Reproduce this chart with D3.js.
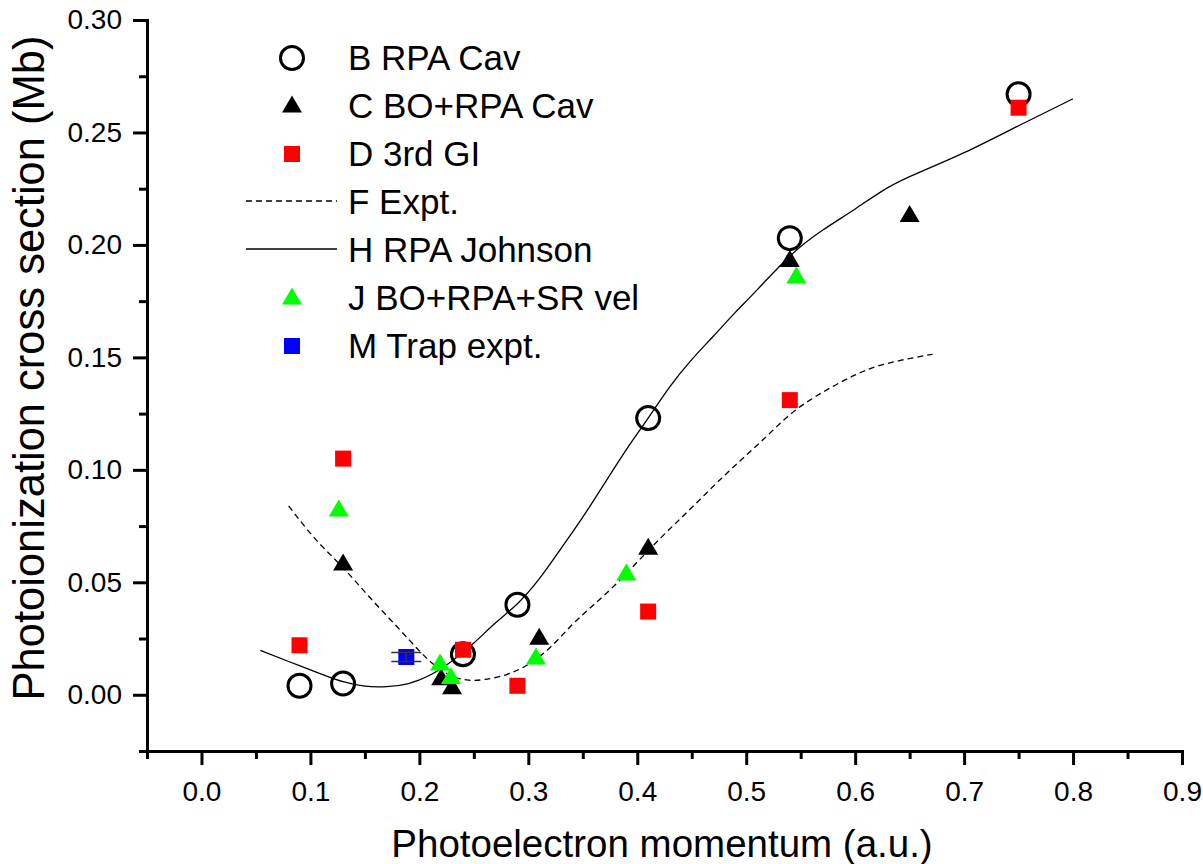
<!DOCTYPE html>
<html>
<head>
<meta charset="utf-8">
<script src="https://cdn.jsdelivr.net/npm/d3@7"></script>
<style>
  body { margin: 0; background: #fff; }
  text { font-family: Arial, "Liberation Sans", sans-serif; fill: #000; }
</style>
</head>
<body>
<div id="chart"></div>
<script>
// B RPA Cav (open circles)
const rpaCavX = [0.09, 0.13, 0.24, 0.29, 0.41, 0.54, 0.75];
const rpaCavY = [0.004, 0.005, 0.018, 0.040, 0.123, 0.203, 0.267];

// C BO+RPA Cav (black triangles)
const boRpaX = [0.13, 0.22, 0.23, 0.31, 0.41, 0.54, 0.65];
const boRpaY = [0.059, 0.008, 0.004, 0.026, 0.066, 0.194, 0.214];

// D 3rd GI (red squares)
const giX = [0.09, 0.13, 0.24, 0.29, 0.41, 0.54, 0.75];
const giY = [0.022, 0.105, 0.020, 0.004, 0.037, 0.131, 0.261];

// F Expt. (dashed line)
const exptX = [0.080, 0.105, 0.130, 0.155, 0.180, 0.200, 0.215, 0.230, 0.245, 0.260, 0.280, 0.300, 0.320,
  0.340, 0.360, 0.380, 0.400, 0.420, 0.440, 0.460, 0.480, 0.500, 0.520, 0.540, 0.560, 0.580, 0.600,
  0.620, 0.645, 0.671];
const exptY = [0.084, 0.069, 0.0565, 0.043, 0.030, 0.0195, 0.0128, 0.0083, 0.0065, 0.0068, 0.009, 0.0135, 0.021,
  0.031, 0.040, 0.049, 0.059, 0.069, 0.0785, 0.088, 0.0975, 0.1065, 0.1155, 0.1245, 0.1315, 0.1372, 0.1422,
  0.1460, 0.1490, 0.1514];

// H RPA Johnson (solid line)
const johnsonX = [0.054, 0.080, 0.110, 0.130, 0.150, 0.170, 0.190, 0.210, 0.230, 0.250, 0.270, 0.290, 0.310,
  0.330, 0.350, 0.370, 0.390, 0.410, 0.430, 0.450, 0.470, 0.490, 0.510, 0.540, 0.570, 0.600, 0.630,
  0.660, 0.700, 0.750, 0.800];
const johnsonY = [0.0197, 0.0148, 0.0092, 0.0058, 0.0038, 0.0036, 0.005, 0.0088, 0.015, 0.023, 0.032, 0.0405, 0.0515,
  0.065, 0.079, 0.094, 0.109, 0.123, 0.137, 0.149, 0.1595, 0.170, 0.180, 0.195, 0.2065, 0.216, 0.2255,
  0.2325, 0.241, 0.253, 0.265];

// J BO+RPA+SR vel (green triangles)
const srVelX = [0.126, 0.219, 0.229, 0.307, 0.390, 0.546];
const srVelY = [0.083, 0.0146, 0.0086, 0.0172, 0.0546, 0.1866];

// M Trap expt. (blue square, y error)
const trapX = [0.188];
const trapY = [0.0168];
const trapErr = [0.002];

const legendLabels = ["B RPA Cav", "C BO+RPA Cav", "D 3rd GI", "F Expt.", "H RPA Johnson", "J BO+RPA+SR vel", "M Trap expt."];

const xMajor = [0, 0.1, 0.2, 0.3, 0.4, 0.5, 0.6, 0.7, 0.8, 0.9];
const xMinor = [-0.05, 0.05, 0.15, 0.25, 0.35, 0.45, 0.55, 0.65, 0.75, 0.85];
const yMajor = [0, 0.05, 0.10, 0.15, 0.20, 0.25, 0.30];
const yMinor = [-0.025, 0.025, 0.075, 0.125, 0.175, 0.225, 0.275];

const width = 1203, height = 864;
const plotLeft = 147, plotRight = 1182, plotTop = 20, plotBottom = 751;

const svg = d3.select("#chart").append("svg")
  .attr("width", width)
  .attr("height", height);

const x = d3.scaleLinear().domain([-0.05, 0.9]).range([plotLeft, plotRight]);
const y = d3.scaleLinear().domain([-0.025, 0.30]).range([plotBottom, plotTop]);

// minor ticks
svg.append("g")
  .attr("transform", `translate(0,${plotBottom})`)
  .call(d3.axisBottom(x).tickValues(xMinor).tickSize(8).tickFormat(""))
  .call(g => g.select(".domain").remove())
  .selectAll("line").attr("stroke-width", 3);
svg.append("g")
  .attr("transform", `translate(${plotLeft},0)`)
  .call(d3.axisLeft(y).tickValues(yMinor).tickSize(8).tickFormat(""))
  .call(g => g.select(".domain").remove())
  .selectAll("line").attr("stroke-width", 3);

// major ticks + labels
const xAxis = svg.append("g")
  .attr("transform", `translate(0,${plotBottom})`)
  .call(d3.axisBottom(x).tickValues(xMajor).tickSize(14).tickSizeOuter(0).tickPadding(16)
    .tickFormat(d3.format(".1f")));
xAxis.selectAll("line").attr("stroke-width", 3);
xAxis.select(".domain").attr("stroke-width", 3).attr("stroke-linecap", "square");
xAxis.selectAll("text").attr("font-size", 28).attr("font-family", "Arial, 'Liberation Sans', sans-serif");

const yAxis = svg.append("g")
  .attr("transform", `translate(${plotLeft},0)`)
  .call(d3.axisLeft(y).tickValues(yMajor).tickSize(14).tickSizeOuter(0).tickPadding(11)
    .tickFormat(d3.format(".2f")));
yAxis.selectAll("line").attr("stroke-width", 3);
yAxis.select(".domain").attr("stroke-width", 3).attr("stroke-linecap", "square");
yAxis.selectAll("text").attr("font-size", 28).attr("font-family", "Arial, 'Liberation Sans', sans-serif");

// axis titles
svg.append("text")
  .attr("x", 662)
  .attr("y", 857)
  .attr("text-anchor", "middle")
  .attr("font-size", 38.5)
  .text("Photoelectron momentum (a.u.)");

svg.append("text")
  .attr("transform", `translate(44,368) rotate(-90)`)
  .attr("text-anchor", "middle")
  .attr("font-size", 43.5)
  .text("Photoionization cross section (Mb)");

// curves
const zip = (xs, ys) => xs.map((v, i) => [v, ys[i]]);
const line = d3.line().x(d => x(d[0])).y(d => y(d[1])).curve(d3.curveNatural);

svg.append("path")
  .datum(zip(exptX, exptY))
  .attr("fill", "none")
  .attr("stroke", "#000")
  .attr("stroke-width", 1.3)
  .attr("stroke-dasharray", "6,4")
  .attr("d", line);

svg.append("path")
  .datum(zip(johnsonX, johnsonY))
  .attr("fill", "none")
  .attr("stroke", "#000")
  .attr("stroke-width", 1.3)
  .attr("d", line);

const triPath = "M0,-8.5L10,8.5L-10,8.5Z";

// markers
svg.append("g").selectAll("circle")
  .data(zip(rpaCavX, rpaCavY))
  .join("circle")
  .attr("cx", d => x(d[0]))
  .attr("cy", d => y(d[1]))
  .attr("r", 11.5)
  .attr("fill", "none")
  .attr("stroke", "#000")
  .attr("stroke-width", 3);

svg.append("g").selectAll("path")
  .data(zip(boRpaX, boRpaY))
  .join("path")
  .attr("d", triPath)
  .attr("transform", d => `translate(${x(d[0])},${y(d[1])})`)
  .attr("fill", "#000");

svg.append("g").selectAll("rect")
  .data(zip(giX, giY))
  .join("rect")
  .attr("x", d => x(d[0]) - 8)
  .attr("y", d => y(d[1]) - 8)
  .attr("width", 16)
  .attr("height", 16)
  .attr("fill", "#ff0000");

svg.append("g").selectAll("path")
  .data(zip(srVelX, srVelY))
  .join("path")
  .attr("d", triPath)
  .attr("transform", d => `translate(${x(d[0])},${y(d[1])})`)
  .attr("fill", "#00ff00");

// trap expt. with error bar
const trap = svg.append("g").selectAll("g")
  .data(trapX.map((v, i) => ({ x: v, y: trapY[i], e: trapErr[i] })))
  .join("g");
trap.append("rect")
  .attr("x", d => x(d.x) - 8)
  .attr("y", d => y(d.y) - 8)
  .attr("width", 16)
  .attr("height", 16)
  .attr("fill", "#0000ff");
trap.append("path")
  .attr("fill", "none")
  .attr("stroke", "#333")
  .attr("stroke-width", 1.5)
  .attr("d", d => {
    const cx = x(d.x), y0 = y(d.y - d.e), y1 = y(d.y + d.e);
    return `M${cx - 15},${y0}H${cx + 15}M${cx - 15},${y1}H${cx + 15}M${cx},${y0}V${y1}`;
  });

// legend
const legend = svg.append("g");
const rowY = i => 58 + i * 48;
const symX = 292;

legend.append("circle").attr("cx", symX).attr("cy", rowY(0)).attr("r", 11.5)
  .attr("fill", "none").attr("stroke", "#000").attr("stroke-width", 3);
legend.append("path").attr("d", triPath).attr("transform", `translate(${symX},${rowY(1) - 2})`).attr("fill", "#000");
legend.append("rect").attr("x", symX - 8).attr("y", rowY(2) - 8).attr("width", 16).attr("height", 16).attr("fill", "#ff0000");
legend.append("line").attr("x1", 246).attr("x2", 337).attr("y1", rowY(3) - 1).attr("y2", rowY(3) - 1)
  .attr("stroke", "#000").attr("stroke-width", 1.3).attr("stroke-dasharray", "6,4");
legend.append("line").attr("x1", 246).attr("x2", 337).attr("y1", rowY(4) - 1).attr("y2", rowY(4) - 1)
  .attr("stroke", "#000").attr("stroke-width", 1.3);
legend.append("path").attr("d", triPath).attr("transform", `translate(${symX},${rowY(5) - 2})`).attr("fill", "#00ff00");
legend.append("rect").attr("x", symX - 8).attr("y", rowY(6) - 8).attr("width", 16).attr("height", 16).attr("fill", "#0000ff");

legend.selectAll("text")
  .data(legendLabels)
  .join("text")
  .attr("x", 348)
  .attr("y", (d, i) => rowY(i) + 12)
  .attr("font-size", 35)
  .text(d => d);
</script>
</body>
</html>
